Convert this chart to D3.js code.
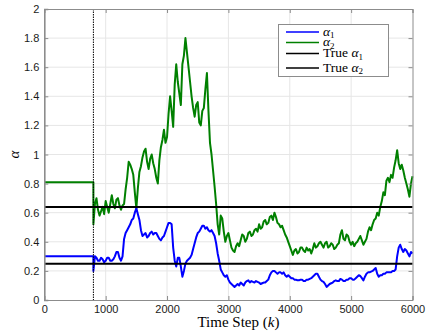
<!DOCTYPE html>
<html>
<head>
<meta charset="utf-8">
<script src="https://cdn.jsdelivr.net/npm/d3@7/dist/d3.min.js"></script>
<style>
  html, body { margin: 0; padding: 0; background: #fff; }
  svg { display: block; }
</style>
</head>
<body>
<svg id="chart" width="426" height="335"></svg>
<script>
// Parameter estimates over time, with the true values for reference
const xTicks = [0, 1000, 2000, 3000, 4000, 5000, 6000];
const yTicks = [0, 0.2, 0.4, 0.6, 0.8, 1, 1.2, 1.4, 1.6, 1.8, 2];

// constant initial guesses before estimation starts at k = 800
const initSteps = [0, 800];
const alpha1Init = [0.30, 0.30];
const alpha2Init = [0.81, 0.81];

// estimation phase, sampled every 25 steps from k = 800 to 6000 (8 samples per row)
const estSteps = d3.range(800, 6001, 25);
const alpha1Est = [
  0.20,0.30,0.29,0.27,0.27,0.29,0.28,0.26,
  0.27,0.29,0.29,0.27,0.27,0.28,0.30,0.33,
  0.33,0.29,0.27,0.30,0.42,0.46,0.48,0.50,
  0.52,0.55,0.56,0.60,0.63,0.59,0.55,0.48,
  0.44,0.45,0.46,0.43,0.44,0.46,0.47,0.45,
  0.46,0.46,0.44,0.42,0.41,0.43,0.44,0.47,
  0.50,0.53,0.53,0.52,0.36,0.27,0.23,0.29,
  0.29,0.23,0.16,0.20,0.25,0.27,0.28,0.29,
  0.31,0.35,0.39,0.43,0.46,0.47,0.49,0.51,
  0.51,0.49,0.50,0.48,0.47,0.48,0.46,0.44,
  0.39,0.32,0.27,0.21,0.19,0.17,0.16,0.17,
  0.14,0.12,0.11,0.10,0.09,0.10,0.11,0.10,
  0.12,0.11,0.10,0.12,0.13,0.135,0.12,0.13,
  0.125,0.12,0.13,0.125,0.12,0.11,0.115,0.12,
  0.12,0.13,0.14,0.17,0.19,0.20,0.20,0.19,
  0.18,0.19,0.19,0.18,0.19,0.17,0.16,0.17,
  0.16,0.15,0.15,0.14,0.14,0.135,0.135,0.14,
  0.14,0.13,0.13,0.14,0.14,0.145,0.15,0.16,
  0.17,0.18,0.18,0.16,0.14,0.13,0.125,0.11,
  0.09,0.10,0.11,0.115,0.12,0.13,0.135,0.13,
  0.13,0.145,0.14,0.13,0.13,0.14,0.14,0.15,
  0.15,0.14,0.14,0.15,0.16,0.17,0.165,0.15,
  0.135,0.16,0.18,0.19,0.19,0.195,0.20,0.21,
  0.22,0.18,0.16,0.17,0.17,0.18,0.18,0.19,
  0.19,0.19,0.19,0.20,0.20,0.21,0.30,0.36,
  0.38,0.35,0.33,0.35,0.34,0.32,0.30,0.33,
  0.32
];
const alpha2Est = [
  0.52,0.66,0.70,0.62,0.58,0.61,0.64,0.59,
  0.68,0.64,0.60,0.66,0.72,0.66,0.63,0.69,
  0.70,0.65,0.62,0.65,0.66,0.76,0.84,0.95,
  0.93,0.90,0.86,0.74,0.63,0.77,0.88,0.92,
  0.98,1.02,1.04,0.95,0.90,0.97,1.00,0.94,
  0.90,0.84,0.80,0.96,1.05,1.10,1.17,1.08,
  1.12,1.28,1.40,1.30,1.19,1.48,1.62,1.50,
  1.42,1.34,1.62,1.68,1.80,1.70,1.60,1.50,
  1.40,1.32,1.26,1.34,1.36,1.22,1.20,1.30,
  1.32,1.45,1.56,1.30,1.08,1.00,0.89,0.78,
  0.66,0.52,0.45,0.58,0.56,0.47,0.40,0.44,
  0.46,0.41,0.36,0.34,0.33,0.37,0.39,0.37,
  0.41,0.45,0.44,0.40,0.42,0.46,0.47,0.44,
  0.45,0.48,0.49,0.47,0.52,0.49,0.50,0.54,
  0.55,0.52,0.53,0.57,0.58,0.55,0.60,0.57,
  0.53,0.52,0.50,0.51,0.48,0.45,0.43,0.40,
  0.37,0.34,0.31,0.34,0.35,0.32,0.33,0.36,
  0.36,0.34,0.33,0.36,0.34,0.35,0.32,0.35,
  0.39,0.36,0.37,0.39,0.40,0.38,0.36,0.39,
  0.40,0.36,0.37,0.39,0.38,0.35,0.36,0.38,
  0.39,0.45,0.48,0.42,0.41,0.45,0.44,0.40,
  0.38,0.40,0.37,0.39,0.40,0.42,0.44,0.41,
  0.38,0.40,0.42,0.47,0.50,0.48,0.52,0.55,
  0.56,0.60,0.58,0.64,0.68,0.74,0.72,0.82,
  0.84,0.81,0.86,0.84,0.91,0.96,1.03,0.94,
  0.90,0.93,0.89,0.84,0.80,0.76,0.71,0.80,
  0.85
];

const trueAlpha1 = 0.25;
const trueAlpha2 = 0.64;
const startStep = 800;

const seriesNames = ["α1", "α2", "True α1", "True α2"];
const seriesColors = ["#0000ff", "#008000", "#000000", "#000000"];

// layout
const plotLeft = 44.3, plotRight = 412.5, plotTop = 9, plotBottom = 300;
const svg = d3.select("#chart");
const x = d3.scaleLinear().domain([0, 6000]).range([plotLeft, plotRight]);
const y = d3.scaleLinear().domain([0, 2]).range([plotBottom, plotTop]);

// grid
const grid = svg.append("g").attr("stroke", "#e6e6e6").attr("stroke-width", 1);
grid.selectAll("line.vg").data(xTicks.slice(1, -1)).join("line")
  .attr("x1", d => x(d)).attr("x2", d => x(d)).attr("y1", plotTop).attr("y2", plotBottom);
grid.selectAll("line.hg").data(yTicks.slice(1, -1)).join("line")
  .attr("x1", plotLeft).attr("x2", plotRight).attr("y1", d => y(d)).attr("y2", d => y(d));

// series built from the arrays
const pts = (steps, vals) => steps.map((s, i) => [s, vals[i]]);
const alpha1 = pts(initSteps, alpha1Init).concat(pts(estSteps, alpha1Est));
const alpha2 = pts(initSteps, alpha2Init).concat(pts(estSteps, alpha2Est));
const line = d3.line().x(d => x(d[0])).y(d => y(d[1]));

const plot = svg.append("g");
plot.append("path").datum(alpha2).attr("d", line)
  .attr("fill", "none").attr("stroke", seriesColors[1]).attr("stroke-width", 2)
  .attr("stroke-linejoin", "round");
plot.append("path").datum(alpha1).attr("d", line)
  .attr("fill", "none").attr("stroke", seriesColors[0]).attr("stroke-width", 2)
  .attr("stroke-linejoin", "round");

// true values
[trueAlpha1, trueAlpha2].forEach(v => {
  plot.append("line")
    .attr("x1", plotLeft).attr("x2", plotRight).attr("y1", y(v)).attr("y2", y(v))
    .attr("stroke", "#000").attr("stroke-width", 2);
});

// start of estimation
plot.append("line")
  .attr("x1", x(startStep)).attr("x2", x(startStep)).attr("y1", plotTop).attr("y2", plotBottom)
  .attr("stroke", "#000").attr("stroke-width", 1).attr("stroke-dasharray", "1.5,1");

// axes box and inward ticks on all sides
const tickFont = "'Liberation Sans', Arial, sans-serif";
const axisColor = "#8c8c8c";
const gx = svg.append("g").attr("transform", `translate(0,${plotBottom})`)
  .call(d3.axisBottom(x).tickValues(xTicks).tickSize(-4).tickPadding(5).tickFormat(d3.format("d")));
const gxt = svg.append("g").attr("transform", `translate(0,${plotTop})`)
  .call(d3.axisTop(x).tickValues(xTicks).tickSize(-4).tickFormat(""));
const gy = svg.append("g").attr("transform", `translate(${plotLeft},0)`)
  .call(d3.axisLeft(y).tickValues(yTicks).tickSize(-4).tickPadding(5).tickFormat(d => d3.format("~g")(d)));
const gyr = svg.append("g").attr("transform", `translate(${plotRight},0)`)
  .call(d3.axisRight(y).tickValues(yTicks).tickSize(-4).tickFormat(""));
[gx, gxt, gy, gyr].forEach(g => {
  g.select(".domain").attr("stroke", axisColor).attr("stroke-width", 1);
  g.selectAll(".tick line").attr("stroke", axisColor);
  g.selectAll("text").attr("fill", "#1a1a1a").style("font-family", tickFont).style("font-size", "11px");
});
gy.select(".domain").attr("stroke-width", 1.6);

// axis titles
const serif = "'Liberation Serif', 'DejaVu Serif', serif";
svg.append("text")
  .attr("transform", `translate(19,${(plotTop + plotBottom) / 2}) rotate(-90)`)
  .attr("text-anchor", "middle")
  .style("font-family", serif).style("font-style", "italic").style("font-size", "15px")
  .text("α");
const xt = svg.append("text")
  .attr("x", (plotLeft + plotRight) / 2 + 10).attr("y", 327)
  .attr("text-anchor", "middle")
  .style("font-family", serif).style("font-size", "15px");
xt.append("tspan").text("Time Step (");
xt.append("tspan").style("font-style", "italic").text("k");
xt.append("tspan").text(")");

// legend
const lg = svg.append("g");
lg.append("rect").attr("x", 278.5).attr("y", 24.5).attr("width", 110).attr("height", 52)
  .attr("fill", "#fff").attr("stroke", "#8c8c8c").attr("stroke-width", 1);
const rowY = [32, 42.5, 53.5, 68];
seriesNames.forEach((name, i) => {
  lg.append("line").attr("x1", 286).attr("x2", 319).attr("y1", rowY[i]).attr("y2", rowY[i])
    .attr("stroke", seriesColors[i]).attr("stroke-width", 1.6);
  const t = lg.append("text").attr("x", 323).attr("y", rowY[i] + 3.5)
    .style("font-family", serif).style("font-size", "13.5px").attr("fill", "#000");
  const base = name.slice(0, -1), sub = name.slice(-1);
  const pre = base.replace("α", "");
  if (pre) t.append("tspan").text(pre);
  t.append("tspan").style("font-style", "italic").text("α");
  t.append("tspan").attr("dy", 2.5).style("font-size", "9px").text(sub);
});
</script>
</body>
</html>
